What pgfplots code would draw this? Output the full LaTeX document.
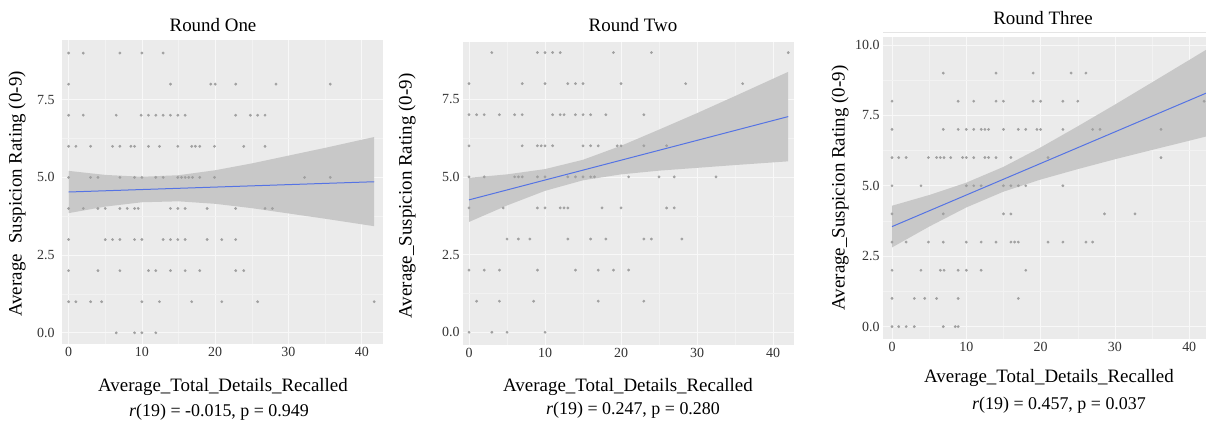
\documentclass[border=0pt]{standalone}
\usepackage{fontspec}
\setmainfont{Liberation Serif}
\usepackage{pgfplots}
\usepackage{pgfplotstable}
\pgfplotsset{compat=1.18}
\definecolor{panelbg}{HTML}{EBEBEB}
\definecolor{bandcol}{HTML}{C8C8C8}
\definecolor{ptcol}{HTML}{A0A0A0}
\definecolor{fitcol}{RGB}{85,115,228}

% ---------- Round One ----------
\pgfplotstableread{
x y
0 9
2 9
7 9
10 9
12.9 9
0 8
13.9 8
19.4 8
20 8
22.8 8
28.3 8
35.7 8
0 7
2 7
6.5 7
9.9 7
10.9 7
11.9 7
12.9 7
13.9 7
14.9 7
15.9 7
22.8 7
24.8 7
25.8 7
26.8 7
0 6
1 6
3 6
6 6
7 6
8.5 6
9 6
10.9 6
12.4 6
14.9 6
16.8 6
17.3 6
17.9 6
19.9 6
23.9 6
26.8 6
0 5
3 5
4 5
7 5
9 5
10 5
11.9 5
12.9 5
14.9 5
15.4 5
15.9 5
16.4 5
16.9 5
17.9 5
19.9 5
32.2 5
35.7 5
0 4
2 4
4 4
5 4
7 4
8 4
9 4
9.5 4
13.9 4
14.9 4
15.9 4
18.9 4
22.8 4
26.8 4
27.8 4
0 3
5 3
6 3
7 3
9 3
10 3
12.9 3
13.9 3
14.9 3
15.9 3
18.9 3
20.9 3
22.8 3
0 2
4 2
7 2
10.9 2
11.9 2
13.9 2
15.9 2
17.9 2
22.8 2
23.9 2
0 1
1 1
3 1
4.5 1
10 1
12.4 1
16.8 1
20.9 1
25.8 1
41.7 1
6.5 0
9 0
10 0
11.9 0
}\ptsA

% ---------- Round Two ----------
\pgfplotstableread{
x y
3 9
9 9
10 9
11 9
12 9
19 9
24 9
42 9
0 8
7 8
10 8
13 8
14 8
15 8
20 8
28.5 8
36 8
0 7
1 7
2 7
4 7
6 7
7 7
11 7
12 7
12.5 7
14 7
15 7
16 7
18 7
23 7
0 6
7 6
9 6
9.5 6
10 6
11 6
15 6
16 6
17 6
19.5 6
20 6
23 6
26 6
0 5
2 5
6 5
6.5 5
7 5
9 5
10 5
13 5
14 5
15 5
16 5
16.5 5
21 5
25 5
27 5
32.5 5
0 4
4.5 4
9 4
10 4
12 4
12.5 4
13 4
17.5 4
20 4
26 4
27 4
5 3
6.5 3
8 3
13 3
16 3
18 3
23 3
24 3
28 3
0 2
2 2
4 2
9 2
14 2
17 2
19 2
21 2
1 1
4 1
8.5 1
17 1
23 1
0 0
3 0
5 0
10 0
}\ptsB

% ---------- Round Three ----------
\pgfplotstableread{
x y
6.9 9
14 9
19 9
24.1 9
26.1 9
0 8
8.9 8
11 8
14 8
15 8
19 8
20 8
23 8
25 8
42 8
0 7
6.9 7
8.9 7
10 7
11 7
12 7
12.5 7
13 7
15 7
17 7
18 7
19.5 7
20 7
23 7
27 7
28 7
36.2 7
0 6
0.9 6
1.9 6
4.9 6
6 6
6.5 6
7 6
7.9 6
9.5 6
10 6
11 6
12.5 6
13 6
14 6
16 6
21 6
36.2 6
0 5
3.9 5
10 5
11 5
12 5
15 5
16 5
17 5
18 5
23 5
0 4
6.9 4
15 4
16 4
28.6 4
32.7 4
0 3
1.9 3
4.9 3
6.9 3
10 3
12 3
14 3
16 3
16.5 3
17 3
21 3
23 3
26.1 3
27 3
0 2
3.9 2
6.5 2
7 2
8.9 2
10 2
12 2
18 2
0 1
3 1
4.4 1
6 1
8.9 1
17 1
0 0
0.9 0
1.9 0
3 0
6.9 0
8.5 0
8.9 0
}\ptsC

\pgfplotsset{
  panel/.style={
    scale only axis,
    axis background/.style={fill=panelbg},
    axis line style={draw=none},
    major tick length=0pt, minor tick length=0pt,
    grid=both,
    major grid style={white!65!panelbg, line width=0.7bp},
    minor grid style={white!35!panelbg, line width=0.4bp},
    minor x tick num=1, minor y tick num=1,
    xtick={0,10,20,30,40},
    /pgf/number format/assume math mode=true,
    yticklabel style={/pgf/number format/fixed, /pgf/number format/fixed zerofill, /pgf/number format/precision=1},
    tick label style={font=\fontsize{14}{16}\selectfont, text=black!80},
    clip=true,
  },
  pts/.style={only marks, mark=*, mark size=1.2bp, color=ptcol, mark options={draw=none, fill=ptcol}},
  band/.style={fill=bandcol, draw=none},
  fit/.style={fitcol, line width=1bp, no marks},
}

\newcommand{\bigfont}{\fontsize{19}{22}\selectfont}
\newcommand{\subfont}{\fontsize{18}{21}\selectfont}

\begin{document}
\begin{tikzpicture}[x=1bp,y=1bp]
\useasboundingbox (0,0) rectangle (1206,422);

% ---------------- Round One ----------------
\begin{axis}[panel, at={(62bp,78bp)}, anchor=south west,
  width=321bp, height=304bp,
  xmin=-0.9, xmax=42.9, ymin=-0.36, ymax=9.42,
  ytick={0,2.5,5,7.5},
  yticklabel style={xshift=-4bp}]
\addplot[band] coordinates {
 (0,5.21) (5,5.08) (10,5.02) (15,5.07) (20,5.23) (25,5.45) (30,5.70) (35,5.95) (41.7,6.30)
 (41.7,3.43) (35,3.67) (30,3.84) (25,4.01) (20,4.15) (15,4.23) (10,4.20) (5,4.06) (0,3.85)} -- cycle;
\addplot[pts] table[x=x,y=y] {\ptsA};
\addplot[fit] coordinates {(0,4.53) (41.7,4.86)};
\end{axis}
\node[font=\bigfont] at (213,397) {Round One};
\node[font=\bigfont, rotate=90] at (17,228) {Average\hspace{0.55em}Suspicion Rating (0-9)};
\node[font=\bigfont] at (223,35) {Average\_Total\_Details\_Recalled};
\node[font=\subfont] at (219,10) {\textit{r}(19) = -0.015, p = 0.949};

% ---------------- Round Two ----------------
\begin{axis}[panel, at={(463bp,77bp)}, anchor=south west,
  width=331bp, height=303bp,
  xmin=-0.79, xmax=42.76, ymin=-0.41, ymax=9.34,
  ytick={0,2.5,5,7.5}]
\addplot[band] coordinates {
 (0,4.97) (5,5.08) (10,5.25) (15,5.55) (20,6.00) (25,6.52) (30,7.05) (35,7.60) (42,8.38)
 (42,5.50) (35,5.38) (30,5.29) (25,5.20) (20,5.08) (15,4.89) (10,4.55) (5,4.08) (0,3.55)} -- cycle;
\addplot[pts] table[x=x,y=y] {\ptsB};
\addplot[fit] coordinates {(0,4.26) (42,6.94)};
\end{axis}
\node[font=\bigfont] at (633,397) {Round Two};
\node[font=\bigfont, rotate=90] at (407,226) {Average\_Suspicion Rating (0-9)};
\node[font=\bigfont] at (628,35) {Average\_Total\_Details\_Recalled};
\node[font=\subfont] at (633,12) {\textit{r}(19) = 0.247, p = 0.280};

% ---------------- Round Three ----------------
\draw[black!10, line width=1bp] (883,389) -- (1206,389);
\begin{axis}[panel, at={(883bp,83bp)}, anchor=south west,
  width=323bp, height=302bp,
  xmin=-1.21, xmax=42.26, ymin=-0.44, ymax=10.28,
  ytick={0,2.5,5,7.5,10}]
\addplot[band] coordinates {
 (0,4.29) (5,4.67) (10,5.11) (15,5.67) (20,6.36) (25,7.11) (30,7.88) (35,8.67) (42.3,9.83)
 (42.3,6.75) (35,6.27) (30,5.94) (25,5.59) (20,5.22) (15,4.79) (10,4.23) (5,3.55) (0,2.81)} -- cycle;
\addplot[pts] table[x=x,y=y] {\ptsC};
\addplot[fit] coordinates {(0,3.55) (42.3,8.29)};
\end{axis}
\node[font=\bigfont] at (1043,404) {Round Three};
\node[font=\bigfont, rotate=90] at (840,234) {Average\_Suspicion Rating (0-9)};
\node[font=\bigfont] at (1049,44) {Average\_Total\_Details\_Recalled};
\node[font=\subfont] at (1059,17) {\textit{r}(19) = 0.457, p = 0.037};
\end{tikzpicture}
\end{document}
